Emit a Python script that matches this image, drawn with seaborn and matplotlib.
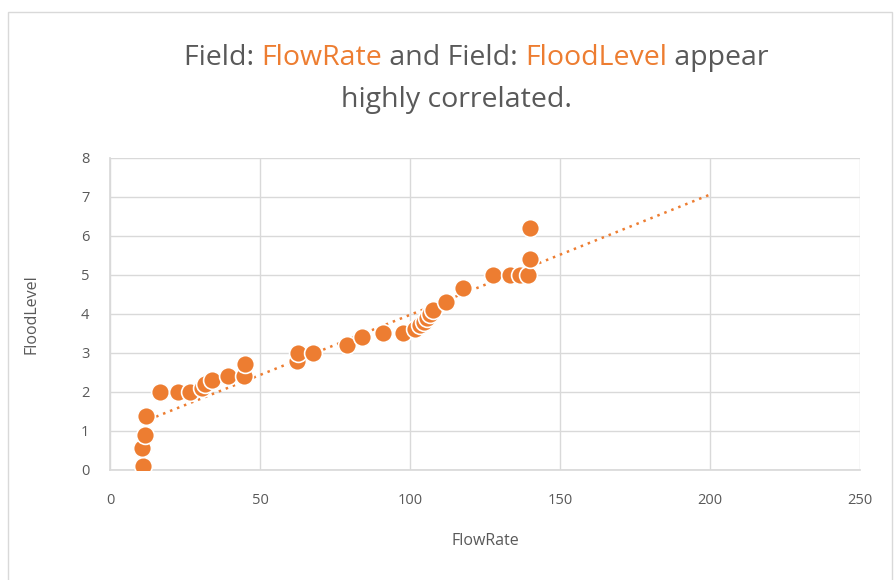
import numpy as np
import pandas as pd
import matplotlib
matplotlib.use("Agg")
import matplotlib.pyplot as plt
import seaborn as sns
from matplotlib.patches import Rectangle

flow_rate = [11, 10.7, 11.5, 12, 16.7, 22.7, 26.7, 30.5, 31.7, 34, 39.3, 44.5, 45,
             62.2, 62.7, 67.8, 78.9, 83.9, 90.9, 97.8, 101.5, 103.3, 104.5, 105.5,
             106.5, 107.5, 112, 117.8, 127.8, 133.3, 136.7, 139.3, 140, 140]
flood_level = [0.1, 0.55, 0.9, 1.37, 2.0, 2.0, 2.0, 2.1, 2.2, 2.3, 2.4, 2.4, 2.7,
               2.8, 3.0, 3.0, 3.2, 3.4, 3.5, 3.5, 3.6, 3.7, 3.8, 3.9,
               4.0, 4.1, 4.3, 4.65, 5.0, 5.0, 5.0, 5.0, 5.4, 6.2]
trend_forecast_to = 200
x_ticks = [0, 50, 100, 150, 200, 250]
y_ticks = [0, 1, 2, 3, 4, 5, 6, 7, 8]

ORANGE = "#ED7D31"
GRAY = "#595959"
GRID = "#D9D9D9"

sns.set_theme(style="white")
plt.rcParams['font.family'] = ['Open Sans', 'DejaVu Sans']

df = pd.DataFrame({"FlowRate": flow_rate, "FloodLevel": flood_level})

fig = plt.figure(figsize=(8.95, 5.8), dpi=100)
ax = fig.add_axes([0.123, 0.19, 0.838, 0.538])

# trendline (linear fit)
k, b = np.polyfit(df["FlowRate"], df["FloodLevel"], 1)
tx = np.array([df["FlowRate"].min(), trend_forecast_to])
ax.plot(tx, k * tx + b, linestyle=(0, (1, 2)), color=ORANGE, lw=1.8, zorder=2)

sns.scatterplot(data=df, x="FlowRate", y="FloodLevel", ax=ax, color=ORANGE,
                s=165, edgecolor="white", linewidth=1.2, zorder=3)

ax.set_xlim(0, 250)
ax.set_ylim(0, 8)
ax.set_xticks(x_ticks)
ax.set_yticks(y_ticks)
ax.grid(True, color=GRID, lw=1)
ax.set_axisbelow(True)
for s in ax.spines.values():
    s.set_visible(False)
ax.spines['bottom'].set_visible(True)
ax.spines['bottom'].set_color(GRID)
ax.spines['left'].set_visible(True)
ax.spines['left'].set_color(GRID)
ax.tick_params(axis='x', colors=GRAY, labelsize=10.5, length=0, pad=17)
ax.tick_params(axis='y', colors=GRAY, labelsize=10.5, length=0, pad=15)
ax.set_xlabel("FlowRate", color=GRAY, fontsize=11.5, labelpad=18)
ax.set_ylabel("FloodLevel", color=GRAY, fontsize=11.5, labelpad=30)

# outer chart border
fig.patches.append(Rectangle((0.009, -0.01), 0.988, 0.99, transform=fig.transFigure,
                             fill=False, edgecolor="#D9D9D9", lw=1))

# multi-colored title
pieces = [("Field: ", GRAY), ("FlowRate", ORANGE), (" and Field: ", GRAY),
          ("FloodLevel", ORANGE), (" appear", GRAY)]
fs = 20.5
fig.canvas.draw()
renderer = fig.canvas.get_renderer()
texts = []
for txt, col in pieces:
    t = fig.text(0, 1 - 58 / 580, txt, color=col, fontsize=fs, ha='left', va='center')
    texts.append(t)
widths = []
for t in texts:
    bb = t.get_window_extent(renderer=renderer)
    widths.append(bb.width / fig.bbox.width)
total = sum(widths)
start = 0.532 - total / 2
for t, w in zip(texts, widths):
    t.set_x(start)
    start += w
fig.text(0.51, 1 - 100 / 580, "highly correlated.", color=GRAY, fontsize=fs,
         ha='center', va='center')

fig.savefig("out.png", dpi=100)
